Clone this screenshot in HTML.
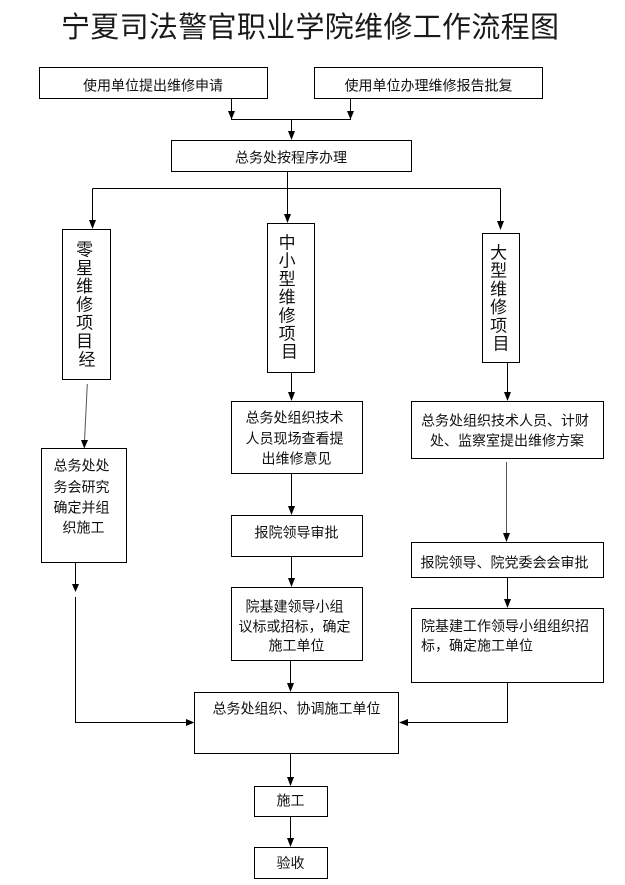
<!DOCTYPE html>
<html>
<head>
<meta charset="utf-8">
<style>
  html,body{margin:0;padding:0;background:#fff;}
  svg{display:block;}
  text{font-family:"Liberation Sans","Noto Sans CJK SC","WenQuanYi Zen Hei",sans-serif;fill:#111;}
  .t{font-size:14px;}
  .v{font-size:17px;}
</style>
</head>
<body>
<svg width="625" height="885" viewBox="0 0 625 885" xmlns="http://www.w3.org/2000/svg">
  <rect x="0" y="0" width="625" height="885" fill="#fff"/>

  <!-- Title -->
  <text x="61" y="37" font-size="29" textLength="498" lengthAdjust="spacing" style="fill:#1a1a1a">宁夏司法警官职业学院维修工作流程图</text>

  <g fill="none" stroke="#000" stroke-width="1" shape-rendering="crispEdges">
    <!-- boxes -->
    <rect x="39.5" y="67.5" width="228" height="31"/>
    <rect x="314.5" y="67.5" width="228" height="31"/>
    <rect x="171.5" y="140.5" width="240" height="31"/>
    <rect x="62.5" y="229.5" width="48" height="150"/>
    <rect x="267.5" y="223.5" width="47" height="149"/>
    <rect x="482.5" y="233.5" width="37" height="129"/>
    <rect x="41.5" y="448.5" width="85" height="114"/>
    <rect x="231.5" y="401.5" width="131" height="72"/>
    <rect x="231.5" y="515.5" width="131" height="41"/>
    <rect x="231.5" y="587.5" width="131" height="73"/>
    <rect x="411.5" y="401.5" width="192" height="57"/>
    <rect x="411.5" y="542.5" width="192" height="35"/>
    <rect x="411.5" y="608.5" width="192" height="74"/>
    <rect x="194.5" y="692.5" width="204" height="61"/>
    <rect x="254.5" y="786.5" width="73" height="30"/>
    <rect x="254.5" y="847.5" width="73" height="31"/>

    <!-- connectors -->
    <path d="M231.5 98 V119.5 H350.5 V98"/>
    <path d="M291.5 119.5 V139"/>
    <path d="M287.5 171 V188.5"/>
    <path d="M92.5 188.5 H500.5"/>
    <path d="M92.5 188.5 V228"/>
    <path d="M287.5 188.5 V222"/>
    <path d="M500.5 188.5 V229"/>
    <path d="M291.5 372 V400"/>
    <path d="M507.5 362 V400"/>
    <path d="M291.5 473 V514"/>
    <path d="M291.5 556 V586"/>
    <path d="M75.5 562 V591"/>
    <path d="M75.5 597 V722.5 H193"/>
    <path d="M507.5 577 V607"/>
    <path d="M290.5 660 V691"/>
    <path d="M507.5 682 V722.5 H400"/>
    <path d="M290.5 753 V785"/>
    <path d="M290.5 816 V846"/>
  </g>
  <!-- gray connectors -->
  <g fill="none" stroke="#555" stroke-width="1">
    <path d="M87.3 384 L84.3 445"/>
    <path d="M506.5 462 V538" shape-rendering="crispEdges"/>
  </g>

  <!-- arrowheads -->
  <g fill="#000">
    <polygon points="228,111 235,111 231.5,119.5"/>
    <polygon points="347,111 354,111 350.5,119.5"/>
    <polygon points="288,131 295,131 291.5,140"/>
    <polygon points="89,220 96,220 92.5,229"/>
    <polygon points="284,214 291,214 287.5,223"/>
    <polygon points="497,221 504,221 500.5,230"/>
    <polygon points="81,440 88,440 84.3,448.5"/>
    <polygon points="288,392 295,392 291.5,401"/>
    <polygon points="504,392 511,392 507.5,401"/>
    <polygon points="503,533 510,533 506.5,542"/>
    <polygon points="288,506 295,506 291.5,515"/>
    <polygon points="288,578 295,578 291.5,587"/>
    <polygon points="72,584 79,584 75.5,592"/>
    <polygon points="504,599 511,599 507.5,608"/>
    <polygon points="287,683 294,683 290.5,692"/>
    <polygon points="186,719 186,726 194.5,722.5"/>
    <polygon points="408,719 408,726 399,722.5"/>
    <polygon points="287,777 294,777 290.5,786"/>
    <polygon points="287,838 294,838 290.5,847"/>
  </g>

  <!-- horizontal texts -->
  <text class="t" x="153" y="90.5" text-anchor="middle">使用单位提出维修申请</text>
  <text class="t" x="428.5" y="90.5" text-anchor="middle">使用单位办理维修报告批复</text>
  <text class="t" x="291" y="162.5" text-anchor="middle">总务处按程序办理</text>

  <!-- vertical texts -->
  <text class="v" text-anchor="middle">
    <tspan x="87" y="255.5">零</tspan>
    <tspan x="87" dy="18.3">星</tspan>
    <tspan x="87" dy="18.3">维</tspan>
    <tspan x="87" dy="18.3">修</tspan>
    <tspan x="87" dy="18.3">项</tspan>
    <tspan x="87" dy="18.3">目</tspan>
    <tspan x="87" dy="18.3">经</tspan>
  </text>
  <text class="v" text-anchor="middle">
    <tspan x="289.5" y="248.5">中</tspan>
    <tspan x="289.5" dy="18.2">小</tspan>
    <tspan x="289.5" dy="18.2">型</tspan>
    <tspan x="289.5" dy="18.2">维</tspan>
    <tspan x="289.5" dy="18.2">修</tspan>
    <tspan x="289.5" dy="18.2">项</tspan>
    <tspan x="289.5" dy="18.2">目</tspan>
  </text>
  <text class="v" text-anchor="middle">
    <tspan x="501" y="258.5">大</tspan>
    <tspan x="501" dy="18.2">型</tspan>
    <tspan x="501" dy="18.2">维</tspan>
    <tspan x="501" dy="18.2">修</tspan>
    <tspan x="501" dy="18.2">项</tspan>
    <tspan x="501" dy="18.2">目</tspan>
  </text>

  <!-- left column box -->
  <text class="t" text-anchor="middle">
    <tspan x="83.5" y="470.5">总务处处</tspan>
    <tspan x="83.5" y="492">务会研究</tspan>
    <tspan x="83.5" y="512.5">确定并组</tspan>
    <tspan x="83.5" y="532.5">织施工</tspan>
  </text>

  <!-- middle column -->
  <text class="t" text-anchor="middle">
    <tspan x="296.5" y="422.5">总务处组织技术</tspan>
    <tspan x="296.5" y="443.5">人员现场查看提</tspan>
    <tspan x="296.5" y="463.5">出维修意见</tspan>
  </text>
  <text class="t" x="296.5" y="537.5" text-anchor="middle">报院领导审批</text>
  <text class="t" text-anchor="middle">
    <tspan x="296.5" y="611.5">院基建领导小组</tspan>
    <tspan x="296.5" y="631.5">议标或招标，确定</tspan>
    <tspan x="296.5" y="650.5">施工单位</tspan>
  </text>

  <!-- right column -->
  <text class="t" text-anchor="middle">
    <tspan x="507" y="425.5">总务处组织技术人员、计财</tspan>
    <tspan x="507" y="445.5">处、监察室提出维修方案</tspan>
  </text>
  <text class="t" x="504.5" y="567.5" text-anchor="middle">报院领导、院党委会会审批</text>
  <text class="t">
    <tspan x="421" y="631">院基建工作领导小组组织招</tspan>
    <tspan x="421" y="650.5">标，确定施工单位</tspan>
  </text>

  <!-- bottom -->
  <text class="t" x="296.5" y="713.5" text-anchor="middle">总务处组织、协调施工单位</text>
  <text class="t" x="290.5" y="805.5" text-anchor="middle">施工</text>
  <text class="t" x="290.5" y="868" text-anchor="middle">验收</text>
</svg>
</body>
</html>
